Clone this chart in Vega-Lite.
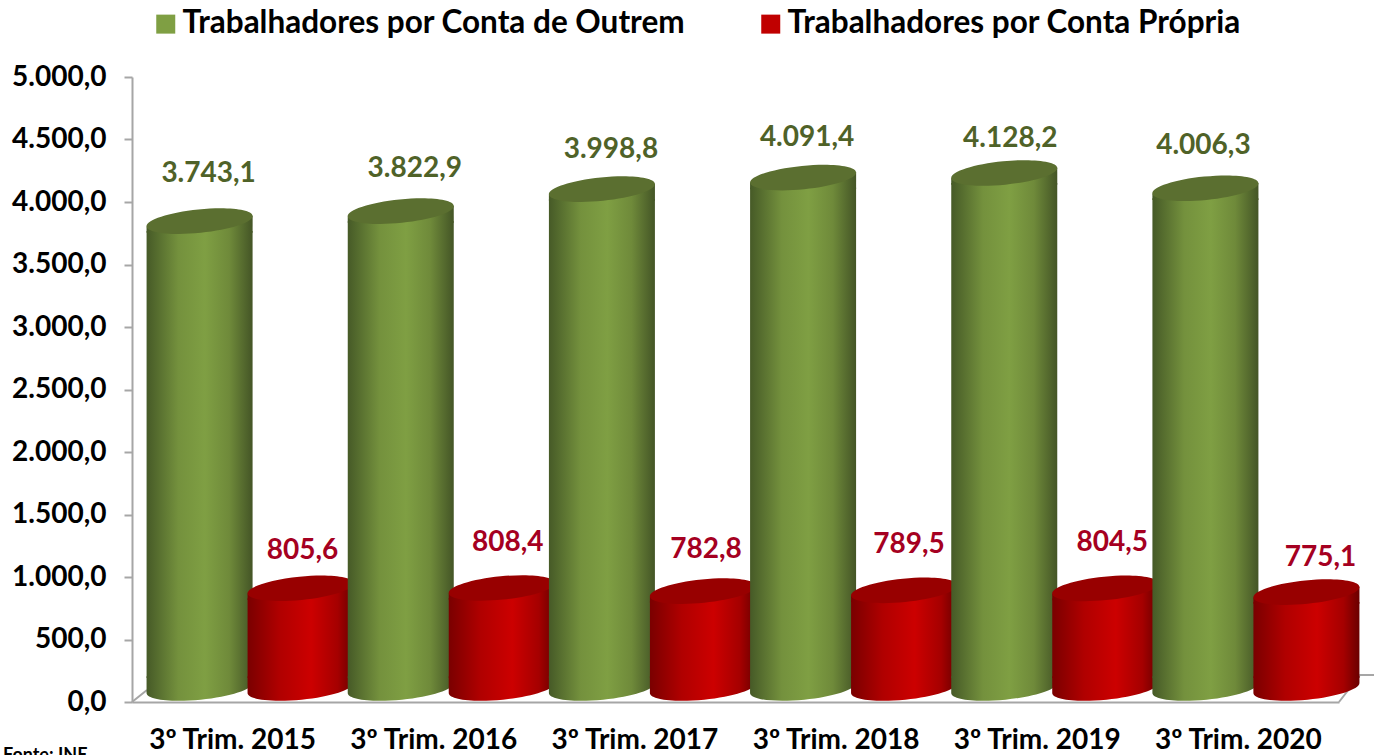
{"$schema":"https://vega.github.io/schema/vega-lite/v6.json","width":1207,"height":625,"autosize":"none","padding":{"left":132,"top":77,"right":42,"bottom":53},"background":"white",
"title":{"text":"Fonte: INE","orient":"bottom","anchor":"start","frame":"group","dx":-129,"offset":-7,"font":"Lato","fontSize":18,"fontWeight":"bold","color":"#000000"},
"config":{"view":{"stroke":null},"style":{
"gB":{"color":{"gradient":"linear","x1":0,"x2":1,"y1":0,"y2":0,"stops":[{"offset":0,"color":"#465A27"},{"offset":0.3,"color":"#74913D"},{"offset":0.55,"color":"#7F9F43"},{"offset":0.78,"color":"#6F8A3A"},{"offset":1,"color":"#445526"}]},"opacity":1},
"rB":{"color":{"gradient":"linear","x1":0,"x2":1,"y1":0,"y2":0,"stops":[{"offset":0,"color":"#7A0000"},{"offset":0.3,"color":"#B00000"},{"offset":0.6,"color":"#CC0000"},{"offset":0.85,"color":"#A50000"},{"offset":1,"color":"#6A0000"}]},"opacity":1},
"gT":{"color":"#5B6F30","opacity":1},"rT":{"color":"#980000","opacity":1},
"gL":{"color":"#4F6228","font":"Lato","fontSize":28,"fontWeight":"bold","baseline":"middle","align":"center"},
"rL":{"color":"#A50021","font":"Lato","fontSize":28,"fontWeight":"bold","baseline":"middle","align":"center"}}},
"data":{"values":[
{"n":1,"ano":"3º Trim. 2015","serie":"Trabalhadores por Conta de Outrem","valor":3743.1,"rotulo":"3.743,1"},
{"n":2,"ano":"3º Trim. 2015","serie":"Trabalhadores por Conta Própria","valor":805.6,"rotulo":"805,6"},
{"n":3,"ano":"3º Trim. 2016","serie":"Trabalhadores por Conta de Outrem","valor":3822.9,"rotulo":"3.822,9"},
{"n":4,"ano":"3º Trim. 2016","serie":"Trabalhadores por Conta Própria","valor":808.4,"rotulo":"808,4"},
{"n":5,"ano":"3º Trim. 2017","serie":"Trabalhadores por Conta de Outrem","valor":3998.8,"rotulo":"3.998,8"},
{"n":6,"ano":"3º Trim. 2017","serie":"Trabalhadores por Conta Própria","valor":782.8,"rotulo":"782,8"},
{"n":7,"ano":"3º Trim. 2018","serie":"Trabalhadores por Conta de Outrem","valor":4091.4,"rotulo":"4.091,4"},
{"n":8,"ano":"3º Trim. 2018","serie":"Trabalhadores por Conta Própria","valor":789.5,"rotulo":"789,5"},
{"n":9,"ano":"3º Trim. 2019","serie":"Trabalhadores por Conta de Outrem","valor":4128.2,"rotulo":"4.128,2"},
{"n":10,"ano":"3º Trim. 2019","serie":"Trabalhadores por Conta Própria","valor":804.5,"rotulo":"804,5"},
{"n":11,"ano":"3º Trim. 2020","serie":"Trabalhadores por Conta de Outrem","valor":4006.3,"rotulo":"4.006,3"},
{"n":12,"ano":"3º Trim. 2020","serie":"Trabalhadores por Conta Própria","valor":775.1,"rotulo":"775,1"}]},
"resolve":{"scale":{"x":"independent"}},
"layer":[
{"data":{"values":[{"lado":"e","u":0,"v":0},{"lado":"e","u":15,"v":96},{"lado":"d","u":1207,"v":0},{"lado":"d","u":1242,"v":216},{"lado":"d","u":1228,"v":216}]},
"mark":{"type":"line","stroke":"#A6A6A6","strokeWidth":2,"clip":false},
"encoding":{"x":{"field":"u","type":"quantitative","axis":null,"scale":{"domain":[0,1207],"nice":false,"zero":false}},"y":{"field":"v","type":"quantitative","scale":{"domain":[0,5000],"nice":false},"axis":{"title":null,"values":[0,500,1000,1500,2000,2500,3000,3500,4000,4500,5000],"grid":false,"labelExpr":"replace(replace(replace(format(datum.value,',.1f'),',','#'),'.',','),'#','.')","tickSize":8,"tickColor":"#A6A6A6","tickWidth":2,"domainColor":"#A6A6A6","domainWidth":2,"labelFont":"Lato","labelFontSize":28,"labelFontWeight":"bold","labelColor":"#000000","labelPadding":18}},"detail":{"field":"lado"},"order":{"field":"u"}}},
{"encoding":{
"x":{"field":"ano","type":"nominal","sort":null,"scale":{"paddingInner":0,"paddingOuter":0},"axis":{"title":null,"labelAngle":0,"tickSize":0,"domainColor":"#A6A6A6","domainWidth":2,"labelFont":"Lato","labelFontSize":28,"labelFontWeight":"bold","labelColor":"#000000","labelPadding":24,"labelLimit":300}},
"y":{"field":"valor","type":"quantitative","scale":{"domain":[0,5000],"nice":false},"axis":{"title":null,"values":[0,500,1000,1500,2000,2500,3000,3500,4000,4500,5000],"grid":false,"labelExpr":"replace(replace(replace(format(datum.value,',.1f'),',','#'),'.',','),'#','.')","tickSize":8,"tickColor":"#A6A6A6","tickWidth":2,"domainColor":"#A6A6A6","domainWidth":2,"labelFont":"Lato","labelFontSize":28,"labelFontWeight":"bold","labelColor":"#000000","labelPadding":18}}},
"layer":[
{"mark":{"type":"point","shape":"square","filled":true,"opacity":0},"encoding":{"color":{"field":"serie","type":"nominal","scale":{"domain":["Trabalhadores por Conta de Outrem","Trabalhadores por Conta Própria"],"range":["#7F9F43","#C00000"]},"legend":{"title":null,"orient":"none","legendX":18,"legendY":-69,"direction":"horizontal","columns":2,"symbolType":"square","symbolSize":361,"symbolOpacity":1,"symbolStrokeWidth":0,"labelFont":"Lato","labelFontSize":31.5,"labelFontWeight":"bold","labelColor":"#000000","labelLimit":700,"labelOffset":1,"columnPadding":69}}}},
{"transform":[{"filter":"datum.n==1"}],"layer":[
{"mark":{"type":"bar","style":"gB","width":106,"xOffset":-33,"yOffset":-3,"y2Offset":-24},"encoding":{"y2":{"datum":0}}},
{"mark":{"type":"point","filled":true,"style":"gB","size":11360,"xOffset":-33,"yOffset":-13,"shape":"M-.995,.0993L.995,-.0993L.995,.22L-.995,.22Z"}},
{"mark":{"type":"point","filled":true,"style":"gT","size":11360,"xOffset":-33,"yOffset":-13,"shape":"M-.995,.0993C-1.007,-.0217 -.5713,-.1642 -.0218,-.219C.5277,-.2738 .983,-.2203 .995,-.0993C1.007,.0217 .5713,.1642 .0218,.219C-.5277,.2738 -.983,.2203 -.995,.0993Z"}},
{"mark":{"type":"point","filled":true,"style":"gB","size":11360,"xOffset":-33,"yOffset":-14,"shape":"M-.995,-.22L.995,-.22L.995,-.0993C1.007,.0217 .5713,.1642 .0218,.219C-.5277,.2738 -.983,.2203 -.995,.0993Z"},"encoding":{"y":{"datum":0}}},
{"mark":{"type":"text","style":"gL","dx":-24,"dy":-60},"encoding":{"text":{"field":"rotulo"}}}]},
{"transform":[{"filter":"datum.n==2"}],"layer":[
{"mark":{"type":"bar","style":"rB","width":106,"xOffset":68,"yOffset":-3,"y2Offset":-24},"encoding":{"y2":{"datum":0}}},
{"mark":{"type":"point","filled":true,"style":"rB","size":11360,"xOffset":68,"yOffset":-13,"shape":"M-.995,.0993L.995,-.0993L.995,.22L-.995,.22Z"}},
{"mark":{"type":"point","filled":true,"style":"rT","size":11360,"xOffset":68,"yOffset":-13,"shape":"M-.995,.0993C-1.007,-.0217 -.5713,-.1642 -.0218,-.219C.5277,-.2738 .983,-.2203 .995,-.0993C1.007,.0217 .5713,.1642 .0218,.219C-.5277,.2738 -.983,.2203 -.995,.0993Z"}},
{"mark":{"type":"point","filled":true,"style":"rB","size":11360,"xOffset":68,"yOffset":-14,"shape":"M-.995,-.22L.995,-.22L.995,-.0993C1.007,.0217 .5713,.1642 .0218,.219C-.5277,.2738 -.983,.2203 -.995,.0993Z"},"encoding":{"y":{"datum":0}}},
{"mark":{"type":"text","style":"rL","dx":70,"dy":-50},"encoding":{"text":{"field":"rotulo"}}}]},
{"transform":[{"filter":"datum.n==3"}],"layer":[
{"mark":{"type":"bar","style":"gB","width":106,"xOffset":-33,"yOffset":-3,"y2Offset":-24},"encoding":{"y2":{"datum":0}}},
{"mark":{"type":"point","filled":true,"style":"gB","size":11360,"xOffset":-33,"yOffset":-13,"shape":"M-.995,.0993L.995,-.0993L.995,.22L-.995,.22Z"}},
{"mark":{"type":"point","filled":true,"style":"gT","size":11360,"xOffset":-33,"yOffset":-13,"shape":"M-.995,.0993C-1.007,-.0217 -.5713,-.1642 -.0218,-.219C.5277,-.2738 .983,-.2203 .995,-.0993C1.007,.0217 .5713,.1642 .0218,.219C-.5277,.2738 -.983,.2203 -.995,.0993Z"}},
{"mark":{"type":"point","filled":true,"style":"gB","size":11360,"xOffset":-33,"yOffset":-14,"shape":"M-.995,-.22L.995,-.22L.995,-.0993C1.007,.0217 .5713,.1642 .0218,.219C-.5277,.2738 -.983,.2203 -.995,.0993Z"},"encoding":{"y":{"datum":0}}},
{"mark":{"type":"text","style":"gL","dx":-19,"dy":-55},"encoding":{"text":{"field":"rotulo"}}}]},
{"transform":[{"filter":"datum.n==4"}],"layer":[
{"mark":{"type":"bar","style":"rB","width":106,"xOffset":68,"yOffset":-3,"y2Offset":-24},"encoding":{"y2":{"datum":0}}},
{"mark":{"type":"point","filled":true,"style":"rB","size":11360,"xOffset":68,"yOffset":-13,"shape":"M-.995,.0993L.995,-.0993L.995,.22L-.995,.22Z"}},
{"mark":{"type":"point","filled":true,"style":"rT","size":11360,"xOffset":68,"yOffset":-13,"shape":"M-.995,.0993C-1.007,-.0217 -.5713,-.1642 -.0218,-.219C.5277,-.2738 .983,-.2203 .995,-.0993C1.007,.0217 .5713,.1642 .0218,.219C-.5277,.2738 -.983,.2203 -.995,.0993Z"}},
{"mark":{"type":"point","filled":true,"style":"rB","size":11360,"xOffset":68,"yOffset":-14,"shape":"M-.995,-.22L.995,-.22L.995,-.0993C1.007,.0217 .5713,.1642 .0218,.219C-.5277,.2738 -.983,.2203 -.995,.0993Z"},"encoding":{"y":{"datum":0}}},
{"mark":{"type":"text","style":"rL","dx":74,"dy":-58},"encoding":{"text":{"field":"rotulo"}}}]},
{"transform":[{"filter":"datum.n==5"}],"layer":[
{"mark":{"type":"bar","style":"gB","width":106,"xOffset":-33,"yOffset":-3,"y2Offset":-24},"encoding":{"y2":{"datum":0}}},
{"mark":{"type":"point","filled":true,"style":"gB","size":11360,"xOffset":-33,"yOffset":-13,"shape":"M-.995,.0993L.995,-.0993L.995,.22L-.995,.22Z"}},
{"mark":{"type":"point","filled":true,"style":"gT","size":11360,"xOffset":-33,"yOffset":-13,"shape":"M-.995,.0993C-1.007,-.0217 -.5713,-.1642 -.0218,-.219C.5277,-.2738 .983,-.2203 .995,-.0993C1.007,.0217 .5713,.1642 .0218,.219C-.5277,.2738 -.983,.2203 -.995,.0993Z"}},
{"mark":{"type":"point","filled":true,"style":"gB","size":11360,"xOffset":-33,"yOffset":-14,"shape":"M-.995,-.22L.995,-.22L.995,-.0993C1.007,.0217 .5713,.1642 .0218,.219C-.5277,.2738 -.983,.2203 -.995,.0993Z"},"encoding":{"y":{"datum":0}}},
{"mark":{"type":"text","style":"gL","dx":-24,"dy":-52},"encoding":{"text":{"field":"rotulo"}}}]},
{"transform":[{"filter":"datum.n==6"}],"layer":[
{"mark":{"type":"bar","style":"rB","width":106,"xOffset":68,"yOffset":-3,"y2Offset":-24},"encoding":{"y2":{"datum":0}}},
{"mark":{"type":"point","filled":true,"style":"rB","size":11360,"xOffset":68,"yOffset":-13,"shape":"M-.995,.0993L.995,-.0993L.995,.22L-.995,.22Z"}},
{"mark":{"type":"point","filled":true,"style":"rT","size":11360,"xOffset":68,"yOffset":-13,"shape":"M-.995,.0993C-1.007,-.0217 -.5713,-.1642 -.0218,-.219C.5277,-.2738 .983,-.2203 .995,-.0993C1.007,.0217 .5713,.1642 .0218,.219C-.5277,.2738 -.983,.2203 -.995,.0993Z"}},
{"mark":{"type":"point","filled":true,"style":"rB","size":11360,"xOffset":68,"yOffset":-14,"shape":"M-.995,-.22L.995,-.22L.995,-.0993C1.007,.0217 .5713,.1642 .0218,.219C-.5277,.2738 -.983,.2203 -.995,.0993Z"},"encoding":{"y":{"datum":0}}},
{"mark":{"type":"text","style":"rL","dx":71,"dy":-54},"encoding":{"text":{"field":"rotulo"}}}]},
{"transform":[{"filter":"datum.n==7"}],"layer":[
{"mark":{"type":"bar","style":"gB","width":106,"xOffset":-33,"yOffset":-3,"y2Offset":-24},"encoding":{"y2":{"datum":0}}},
{"mark":{"type":"point","filled":true,"style":"gB","size":11360,"xOffset":-33,"yOffset":-13,"shape":"M-.995,.0993L.995,-.0993L.995,.22L-.995,.22Z"}},
{"mark":{"type":"point","filled":true,"style":"gT","size":11360,"xOffset":-33,"yOffset":-13,"shape":"M-.995,.0993C-1.007,-.0217 -.5713,-.1642 -.0218,-.219C.5277,-.2738 .983,-.2203 .995,-.0993C1.007,.0217 .5713,.1642 .0218,.219C-.5277,.2738 -.983,.2203 -.995,.0993Z"}},
{"mark":{"type":"point","filled":true,"style":"gB","size":11360,"xOffset":-33,"yOffset":-14,"shape":"M-.995,-.22L.995,-.22L.995,-.0993C1.007,.0217 .5713,.1642 .0218,.219C-.5277,.2738 -.983,.2203 -.995,.0993Z"},"encoding":{"y":{"datum":0}}},
{"mark":{"type":"text","style":"gL","dx":-29,"dy":-53},"encoding":{"text":{"field":"rotulo"}}}]},
{"transform":[{"filter":"datum.n==8"}],"layer":[
{"mark":{"type":"bar","style":"rB","width":106,"xOffset":68,"yOffset":-3,"y2Offset":-24},"encoding":{"y2":{"datum":0}}},
{"mark":{"type":"point","filled":true,"style":"rB","size":11360,"xOffset":68,"yOffset":-13,"shape":"M-.995,.0993L.995,-.0993L.995,.22L-.995,.22Z"}},
{"mark":{"type":"point","filled":true,"style":"rT","size":11360,"xOffset":68,"yOffset":-13,"shape":"M-.995,.0993C-1.007,-.0217 -.5713,-.1642 -.0218,-.219C.5277,-.2738 .983,-.2203 .995,-.0993C1.007,.0217 .5713,.1642 .0218,.219C-.5277,.2738 -.983,.2203 -.995,.0993Z"}},
{"mark":{"type":"point","filled":true,"style":"rB","size":11360,"xOffset":68,"yOffset":-14,"shape":"M-.995,-.22L.995,-.22L.995,-.0993C1.007,.0217 .5713,.1642 .0218,.219C-.5277,.2738 -.983,.2203 -.995,.0993Z"},"encoding":{"y":{"datum":0}}},
{"mark":{"type":"text","style":"rL","dx":73,"dy":-58},"encoding":{"text":{"field":"rotulo"}}}]},
{"transform":[{"filter":"datum.n==9"}],"layer":[
{"mark":{"type":"bar","style":"gB","width":106,"xOffset":-33,"yOffset":-3,"y2Offset":-24},"encoding":{"y2":{"datum":0}}},
{"mark":{"type":"point","filled":true,"style":"gB","size":11360,"xOffset":-33,"yOffset":-13,"shape":"M-.995,.0993L.995,-.0993L.995,.22L-.995,.22Z"}},
{"mark":{"type":"point","filled":true,"style":"gT","size":11360,"xOffset":-33,"yOffset":-13,"shape":"M-.995,.0993C-1.007,-.0217 -.5713,-.1642 -.0218,-.219C.5277,-.2738 .983,-.2203 .995,-.0993C1.007,.0217 .5713,.1642 .0218,.219C-.5277,.2738 -.983,.2203 -.995,.0993Z"}},
{"mark":{"type":"point","filled":true,"style":"gB","size":11360,"xOffset":-33,"yOffset":-14,"shape":"M-.995,-.22L.995,-.22L.995,-.0993C1.007,.0217 .5713,.1642 .0218,.219C-.5277,.2738 -.983,.2203 -.995,.0993Z"},"encoding":{"y":{"datum":0}}},
{"mark":{"type":"text","style":"gL","dx":-27,"dy":-47},"encoding":{"text":{"field":"rotulo"}}}]},
{"transform":[{"filter":"datum.n==10"}],"layer":[
{"mark":{"type":"bar","style":"rB","width":106,"xOffset":68,"yOffset":-3,"y2Offset":-24},"encoding":{"y2":{"datum":0}}},
{"mark":{"type":"point","filled":true,"style":"rB","size":11360,"xOffset":68,"yOffset":-13,"shape":"M-.995,.0993L.995,-.0993L.995,.22L-.995,.22Z"}},
{"mark":{"type":"point","filled":true,"style":"rT","size":11360,"xOffset":68,"yOffset":-13,"shape":"M-.995,.0993C-1.007,-.0217 -.5713,-.1642 -.0218,-.219C.5277,-.2738 .983,-.2203 .995,-.0993C1.007,.0217 .5713,.1642 .0218,.219C-.5277,.2738 -.983,.2203 -.995,.0993Z"}},
{"mark":{"type":"point","filled":true,"style":"rB","size":11360,"xOffset":68,"yOffset":-14,"shape":"M-.995,-.22L.995,-.22L.995,-.0993C1.007,.0217 .5713,.1642 .0218,.219C-.5277,.2738 -.983,.2203 -.995,.0993Z"},"encoding":{"y":{"datum":0}}},
{"mark":{"type":"text","style":"rL","dx":75,"dy":-58},"encoding":{"text":{"field":"rotulo"}}}]},
{"transform":[{"filter":"datum.n==11"}],"layer":[
{"mark":{"type":"bar","style":"gB","width":106,"xOffset":-33,"yOffset":-3,"y2Offset":-24},"encoding":{"y2":{"datum":0}}},
{"mark":{"type":"point","filled":true,"style":"gB","size":11360,"xOffset":-33,"yOffset":-13,"shape":"M-.995,.0993L.995,-.0993L.995,.22L-.995,.22Z"}},
{"mark":{"type":"point","filled":true,"style":"gT","size":11360,"xOffset":-33,"yOffset":-13,"shape":"M-.995,.0993C-1.007,-.0217 -.5713,-.1642 -.0218,-.219C.5277,-.2738 .983,-.2203 .995,-.0993C1.007,.0217 .5713,.1642 .0218,.219C-.5277,.2738 -.983,.2203 -.995,.0993Z"}},
{"mark":{"type":"point","filled":true,"style":"gB","size":11360,"xOffset":-33,"yOffset":-14,"shape":"M-.995,-.22L.995,-.22L.995,-.0993C1.007,.0217 .5713,.1642 .0218,.219C-.5277,.2738 -.983,.2203 -.995,.0993Z"},"encoding":{"y":{"datum":0}}},
{"mark":{"type":"text","style":"gL","dx":-35,"dy":-55},"encoding":{"text":{"field":"rotulo"}}}]},
{"transform":[{"filter":"datum.n==12"}],"layer":[
{"mark":{"type":"bar","style":"rB","width":106,"xOffset":68,"yOffset":-3,"y2Offset":-24},"encoding":{"y2":{"datum":0}}},
{"mark":{"type":"point","filled":true,"style":"rB","size":11360,"xOffset":68,"yOffset":-13,"shape":"M-.995,.0993L.995,-.0993L.995,.22L-.995,.22Z"}},
{"mark":{"type":"point","filled":true,"style":"rT","size":11360,"xOffset":68,"yOffset":-13,"shape":"M-.995,.0993C-1.007,-.0217 -.5713,-.1642 -.0218,-.219C.5277,-.2738 .983,-.2203 .995,-.0993C1.007,.0217 .5713,.1642 .0218,.219C-.5277,.2738 -.983,.2203 -.995,.0993Z"}},
{"mark":{"type":"point","filled":true,"style":"rB","size":11360,"xOffset":68,"yOffset":-14,"shape":"M-.995,-.22L.995,-.22L.995,-.0993C1.007,.0217 .5713,.1642 .0218,.219C-.5277,.2738 -.983,.2203 -.995,.0993Z"},"encoding":{"y":{"datum":0}}},
{"mark":{"type":"text","style":"rL","dx":82,"dy":-47},"encoding":{"text":{"field":"rotulo"}}}]}
]}]}
